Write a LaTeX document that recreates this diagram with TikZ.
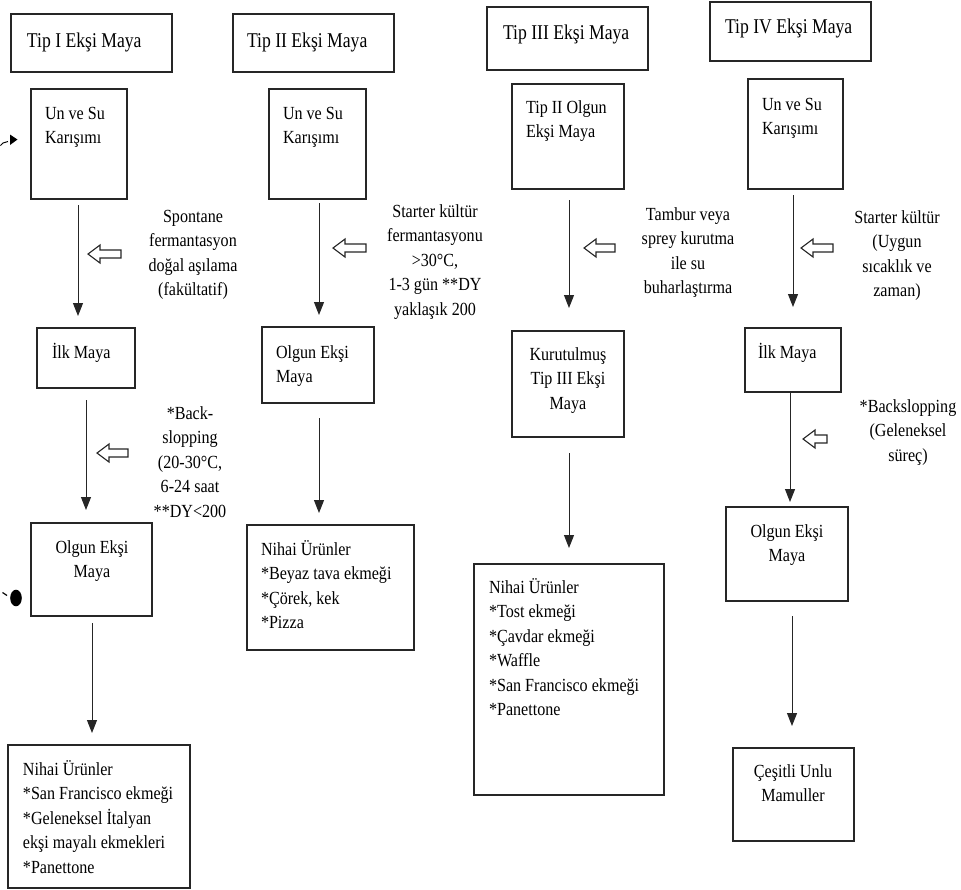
\documentclass[tikz,border=0pt]{standalone}
\usepackage{fontspec}
\setmainfont{Liberation Serif}[FakeStretch=0.87]
\newfontfamily\titlefont{Liberation Serif}[FakeStretch=0.84]
\usetikzlibrary{arrows.meta}
\newcommand\tabL[1]{\begin{tabular}[t]{@{}l@{}}#1\end{tabular}}
\newcommand\tabC[1]{\begin{tabular}[t]{@{}c@{}}#1\end{tabular}}
\newcommand\boxat[5]{\node[mybox, minimum width={(#4)-(#2)}, minimum height={(#5)-(#3)}] (#1) at (#2,#3) {};}
\tikzset{
  mybox/.style={draw=black!85, line width=1.3pt, inner sep=0pt, outer sep=0pt, anchor=north west},
  txt/.style={inner sep=0pt, outer sep=0pt, text=black, font=\fontsize{18.5}{24.5}\selectfont},
  ttl/.style={inner sep=0pt, outer sep=0pt, text=black, font=\titlefont\fontsize{21}{25}\selectfont, anchor=base west},
  flow/.style={draw=black!85, line width=1pt, -{Triangle[width=10pt,length=13pt]}},
  hollow/.pic={\draw[line width=1.1pt, draw=black!85, fill=white] (0,0) -- (12,-9) -- (12,-4) -- (#1,-4) -- (#1,4) -- (12,4) -- (12,9) -- cycle;}
}
\begin{document}
\begin{tikzpicture}[x=1pt, y=-1pt]
\fill[white] (0,0) rectangle (961,889);
\useasboundingbox (0,0) rectangle (961,889);

% ---- boxes ----
\boxat{T1}{11}{14}{172}{72}
\boxat{T2}{233}{14}{394}{72}
\boxat{T3}{487}{7}{648}{70}
\boxat{T4}{710}{2}{871}{61}
\boxat{U1}{31}{89}{127}{199}
\boxat{U2}{269}{89}{366}{199}
\boxat{O3}{512}{84}{624}{189}
\boxat{U4}{748}{79}{843}{189}
\boxat{I1}{37}{328}{135}{388}
\boxat{O2}{262}{327}{374}{403}
\boxat{K3}{512}{331}{624}{437}
\boxat{I4}{745}{328}{841}{392}
\boxat{O1}{31}{523}{152}{616}
\boxat{N2}{247}{525}{414}{650}
\boxat{N3}{474}{564}{664}{795}
\boxat{O4}{726}{507}{848}{601}
\boxat{N1}{8}{745}{190}{888}
\boxat{C4}{733}{748}{854}{841}

% ---- titles ----
\node[ttl] (t1) at (27,47) {Tip I Ekşi Maya};
\node[ttl] (t2) at (247,47) {Tip II Ekşi Maya};
\node[ttl] (t3) at (503,39) {Tip III Ekşi Maya};
\node[ttl] (t4) at (725,33) {Tip IV Ekşi Maya};

% ---- box texts ----
\node[txt, anchor=base west] (u1t) at (45,119) {\tabL{Un ve Su\\Karışımı}};
\node[txt, anchor=base west] (u2t) at (283,119) {\tabL{Un ve Su\\Karışımı}};
\node[txt, anchor=base west] (o3t) at (526,113) {\tabL{Tip II Olgun\\Ekşi Maya}};
\node[txt, anchor=base west] (u4t) at (762,110) {\tabL{Un ve Su\\Karışımı}};
\node[txt, anchor=base west] (i1t) at (52,358) {İlk Maya};
\node[txt, anchor=base west] (o2t) at (276,358) {\tabL{Olgun Ekşi\\Maya}};
\node[txt, anchor=base] (k3t) at (568,360) {\tabC{Kurutulmuş\\Tip III Ekşi\\Maya}};
\node[txt, anchor=base west] (i4t) at (758,358) {İlk Maya};
\node[txt, anchor=base] (o1t) at (92,553) {\tabC{Olgun Ekşi\\Maya}};
\node[txt, anchor=base west] (n2t) at (261,555) {\tabL{Nihai Ürünler\\{}*Beyaz tava ekmeği\\{}*Çörek, kek\\{}*Pizza}};
\node[txt, anchor=base west] (n3t) at (489,593) {\tabL{Nihai Ürünler\\{}*Tost ekmeği\\{}*Çavdar ekmeği\\{}*Waffle\\{}*San Francisco ekmeği\\{}*Panettone}};
\node[txt, anchor=base] (o4t) at (787,537) {\tabC{Olgun Ekşi\\Maya}};
\node[txt, anchor=base west] (n1t) at (23,775) {\tabL{Nihai Ürünler\\{}*San Francisco ekmeği\\{}*Geleneksel İtalyan\\ekşi mayalı ekmekleri\\{}*Panettone}};
\node[txt, anchor=base] (c4t) at (793,777) {\tabC{Çeşitli Unlu\\Mamuller}};

% ---- side labels ----
\node[txt, anchor=base] (s1) at (193,222) {\tabC{Spontane\\fermantasyon\\doğal aşılama\\(fakültatif)}};
\node[txt, anchor=base] (s2) at (435,217) {\tabC{Starter kültür\\fermantasyonu\\>30°C,\\1-3 gün **DY\\yaklaşık 200}};
\node[txt, anchor=base] (s3) at (688,220) {\tabC{Tambur veya\\sprey kurutma\\ile su\\buharlaştırma}};
\node[txt, anchor=base] (s4) at (897,223) {\tabC{Starter kültür\\(Uygun\\sıcaklık ve\\zaman)}};
\node[txt, anchor=base] (b1) at (190,419) {\tabC{*Back-\\slopping\\(20-30°C,\\6-24 saat\\{}**DY<200}};
\node[txt, anchor=base] (b4) at (908,412) {\tabC{*Backslopping\\(Geleneksel\\süreç)}};

% ---- flow arrows ----
\coordinate (a1s) at (78,205);  \coordinate (a1e) at (78,316);
\coordinate (a2s) at (86,400);  \coordinate (a2e) at (86,510);
\coordinate (a3s) at (92,623);  \coordinate (a3e) at (92,733);
\coordinate (b1s) at (319,203); \coordinate (b1e) at (319,315);
\coordinate (b2s) at (319,418); \coordinate (b2e) at (319,513);
\coordinate (c1s) at (569,200); \coordinate (c1e) at (569,308);
\coordinate (c2s) at (569,453); \coordinate (c2e) at (569,548);
\coordinate (d1s) at (793,195); \coordinate (d1e) at (793,307);
\coordinate (d2s) at (790,392); \coordinate (d2e) at (790,502);
\coordinate (d3s) at (792,616); \coordinate (d3e) at (792,726);
\foreach \p in {a1,a2,a3,b1,b2,c1,c2,d1,d2,d3}{\draw[flow] (\p s) -- (\p e);}

% ---- hollow arrows ----
\pic at (88,254) {hollow=33};
\pic at (97,453) {hollow=31};
\pic at (333,248) {hollow=33};
\pic at (584,248) {hollow=31};
\pic at (801,248) {hollow=32};
\pic at (803,439) {hollow=24};

% ---- stray marks at left edge ----
\fill[black] (10,134.5) -- (17.5,139.5) -- (10,145) -- cycle;
\draw[line width=1pt] (0.5,145.5) -- (3,143) -- (8,141.5);
\fill[black] (16,598) ellipse [x radius=5.8, y radius=8.3];
\draw[line width=1.2pt] (2.5,592.5) -- (7,595.5);
\end{tikzpicture}
\end{document}
